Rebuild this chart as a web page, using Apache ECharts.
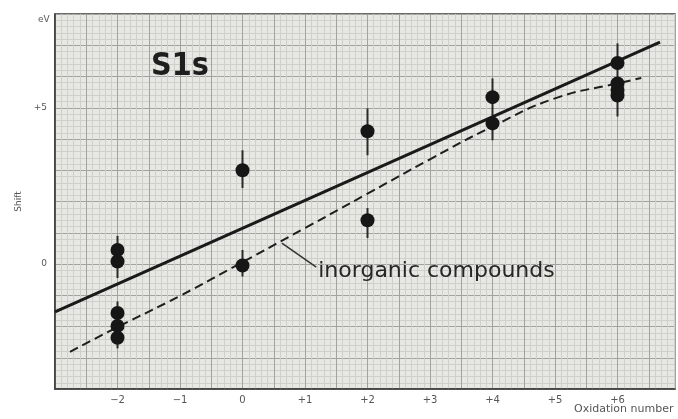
<!DOCTYPE html>
<html>
<head>
<meta charset="utf-8">
<script src="https://cdn.jsdelivr.net/npm/echarts@6/dist/echarts.min.js"></script>
<style>
  html, body { margin: 0; padding: 0; background: #fff; }
  #chart { width: 678px; height: 419px; }
</style>
</head>
<body>
<div id="chart"></div>
<script>
// measured points (oxidation number, shift in eV)
var pointX = [-2, -2, -2, -2, -2, 0, 0, 2, 2, 4, 4, 6, 6, 6, 6];
var pointY = [0.45, 0.08, -1.57, -1.98, -2.36, 3.0, -0.05, 4.25, 1.4, 5.34, 4.5, 6.43, 5.78, 5.57, 5.39];

// error bars
var errX = [-2, -2, 0, 0, 2, 2, 4, 6];
var errLow = [-0.45, -2.7, 2.43, -0.4, 3.48, 0.83, 3.96, 4.72];
var errHigh = [0.9, -1.2, 3.64, 0.45, 4.98, 1.79, 5.94, 7.06];

// fitted line (solid)
var solidX = [-3, 6.68];
var solidY = [-1.53, 7.1];

// inorganic compounds (dashed)
var dashX = [-2.76, -2, -1, 0, 1, 2, 3, 4, 5, 6, 6.38];
var dashY = [-2.81, -2.02, -1.02, 0.06, 1.15, 2.25, 3.35, 4.4, 5.3, 5.78, 5.95];

// leader from the dashed line to its label
var leaderX = [0.63, 1.18];
var leaderY = [0.67, -0.1];

var xTicks = [-2, -1, 0, 1, 2, 3, 4, 5, 6];
var yTicks = [0, 5];

function zip(a, b) {
  return a.map(function (v, i) { return [v, b[i]]; });
}
function signed(v) {
  return v > 0 ? '+' + v : (v < 0 ? '\u2212' + Math.abs(v) : '0');
}
function near(list, v) {
  for (var i = 0; i < list.length; i++) {
    if (Math.abs(list[i] - v) < 1e-6) return list[i];
  }
  return null;
}

var myChart = echarts.init(document.getElementById('chart'));

var option = {
  animation: false,
  backgroundColor: '#ffffff',
  textStyle: { fontFamily: 'DejaVu Sans' },
  grid: {
    left: 55, top: 14, right: 0, bottom: 30,
    show: true,
    backgroundColor: '#e7e7e3',
    borderColor: '#3a3a3a',
    borderWidth: 1.5
  },
  title: {
    text: 'S1s',
    left: 146, top: 46,
    textStyle: { fontFamily: 'DejaVu Sans Condensed', fontSize: 32, fontWeight: 'bold', color: '#1e1e1e' }
  },
  graphic: [
    { type: 'text', left: 38, top: 15, style: { text: 'eV', fontSize: 9, fill: '#555', fontFamily: 'DejaVu Sans' } },
    { type: 'text', left: 574, top: 404, style: { text: 'Oxidation number', fontSize: 11, fill: '#555', fontFamily: 'DejaVu Sans' } }
  ],
  xAxis: {
    type: 'value',
    min: -3, max: 6.92, interval: 0.5,
    axisLine: { onZero: false, lineStyle: { color: '#3a3a3a', width: 1.5 } },
    axisTick: { show: false },
    axisLabel: {
      color: '#555', fontSize: 10, margin: 6,
      formatter: function (v) {
        var t = near(xTicks, v);
        return t === null ? '' : signed(t);
      }
    },
    splitLine: { show: true, lineStyle: { color: '#a2a29e', width: 1 } },
    minorTick: { show: false, splitNumber: 5 },
    minorSplitLine: { show: true, lineStyle: { color: '#d0d0cb', width: 1 } }
  },
  yAxis: {
    type: 'value',
    min: -4, max: 8, interval: 1,
    name: 'Shift',
    nameLocation: 'middle',
    nameRotate: 90,
    nameGap: 32,
    nameTextStyle: { color: '#555', fontSize: 9 },
    axisLine: { onZero: false, lineStyle: { color: '#3a3a3a', width: 1.5 } },
    axisTick: { show: false },
    axisLabel: {
      color: '#555', fontSize: 9, margin: 8,
      formatter: function (v) {
        var t = near(yTicks, v);
        return t === null ? '' : signed(t);
      }
    },
    splitLine: { show: true, lineStyle: { color: '#a2a29e', width: 1 } },
    minorTick: { show: false, splitNumber: 5 },
    minorSplitLine: { show: true, lineStyle: { color: '#d0d0cb', width: 1 } }
  },
  series: [
    {
      type: 'custom',
      name: 'error',
      data: errX.map(function (x, i) { return [x, errLow[i], errHigh[i]]; }),
      renderItem: function (params, api) {
        var a = api.coord([api.value(0), api.value(1)]);
        var b = api.coord([api.value(0), api.value(2)]);
        return {
          type: 'line',
          shape: { x1: a[0], y1: a[1], x2: b[0], y2: b[1] },
          style: { stroke: '#2a2a2a', lineWidth: 2 }
        };
      },
      z: 3
    },
    {
      type: 'line',
      name: 'fit',
      data: zip(solidX, solidY),
      showSymbol: false,
      lineStyle: { color: '#1a1a1a', width: 3 },
      z: 4
    },
    {
      type: 'line',
      name: 'inorganic compounds',
      data: zip(dashX, dashY),
      smooth: true,
      showSymbol: false,
      lineStyle: { color: '#1e1e1e', width: 2, type: [9, 5] },
      z: 4
    },
    {
      type: 'line',
      name: 'leader',
      data: zip(leaderX, leaderY),
      showSymbol: false,
      lineStyle: { color: '#333', width: 1.5 },
      endLabel: {
        show: true,
        formatter: 'inorganic compounds',
        fontFamily: 'DejaVu Sans',
        fontSize: 22,
        color: '#262626',
        distance: 2,
        offset: [0, 4]
      },
      z: 4
    },
    {
      type: 'scatter',
      name: 'points',
      data: zip(pointX, pointY),
      symbolSize: 14,
      itemStyle: { color: '#161616', opacity: 1 },
      z: 5
    }
  ]
};

myChart.setOption(option);
</script>
</body>
</html>
